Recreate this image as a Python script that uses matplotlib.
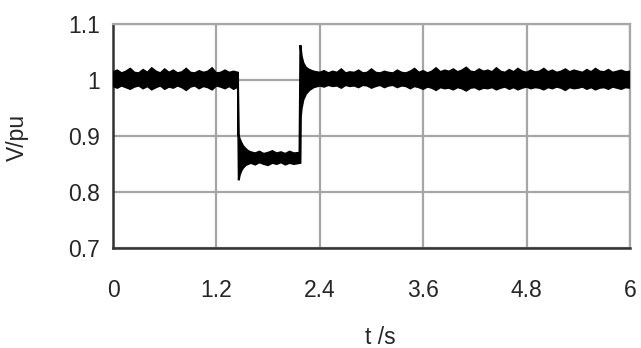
import numpy as np
import matplotlib.pyplot as plt

# envelope of the noisy voltage trace (t in s, V in pu)
t_pre = np.arange(0.0, 1.451, 0.05)
up_pre = [1.014, 1.017, 1.012, 1.015, 1.020, 1.013, 1.012, 1.018, 1.013, 1.021,
          1.015, 1.012, 1.019, 1.013, 1.017, 1.012, 1.014, 1.020, 1.013, 1.012,
          1.016, 1.013, 1.015, 1.021, 1.012, 1.013, 1.017, 1.013, 1.015, 1.013]
lo_pre = [0.989, 0.986, 0.990, 0.987, 0.984, 0.988, 0.990, 0.985, 0.989, 0.983,
          0.987, 0.990, 0.984, 0.988, 0.986, 0.990, 0.987, 0.982, 0.988, 0.990,
          0.985, 0.989, 0.987, 0.983, 0.990, 0.988, 0.985, 0.989, 0.984, 0.988]

t_up_sag = [1.455, 1.47, 1.49, 1.51, 1.54, 1.57, 1.60, 1.65, 1.70, 1.75, 1.80,
            1.85, 1.90, 1.95, 2.00, 2.05, 2.10, 2.165]
up_sag = [0.902, 0.895, 0.888, 0.882, 0.877, 0.873, 0.871, 0.869, 0.872, 0.868,
          0.870, 0.873, 0.869, 0.871, 0.868, 0.872, 0.869, 0.870]
t_lo_sag = [1.46, 1.47, 1.49, 1.51, 1.54, 1.57, 1.60, 1.65, 1.70, 1.75, 1.80,
            1.85, 1.90, 1.95, 2.00, 2.05, 2.10, 2.175]
lo_sag = [0.821, 0.830, 0.838, 0.843, 0.848, 0.850, 0.852, 0.849, 0.853, 0.850,
          0.848, 0.852, 0.850, 0.853, 0.849, 0.852, 0.850, 0.852]

t_up_rec = [2.175, 2.19, 2.21, 2.24, 2.28, 2.33]
up_rec = [1.062, 1.042, 1.030, 1.022, 1.018, 1.015]
t_lo_rec = [2.18, 2.19, 2.21, 2.24, 2.28, 2.33]
lo_rec = [0.935, 0.950, 0.965, 0.975, 0.982, 0.987]

t_post = np.arange(2.40, 6.001, 0.05)
up_post = [1.013, 1.016, 1.012, 1.015, 1.013, 1.019, 1.012, 1.014, 1.013, 1.017,
           1.012, 1.013, 1.019, 1.013, 1.012, 1.015, 1.013, 1.012, 1.017, 1.013,
           1.012, 1.015, 1.020, 1.013, 1.016, 1.012, 1.015, 1.021, 1.014, 1.017,
           1.015, 1.019, 1.014, 1.017, 1.022, 1.015, 1.014, 1.019, 1.015, 1.017,
           1.014, 1.021, 1.015, 1.013, 1.018, 1.014, 1.020, 1.015, 1.013, 1.017,
           1.014, 1.015, 1.020, 1.014, 1.017, 1.013, 1.015, 1.019, 1.014, 1.017,
           1.015, 1.013, 1.018, 1.014, 1.020, 1.015, 1.014, 1.018, 1.013, 1.015,
           1.017, 1.014, 1.015]
lo_post = [0.990, 0.988, 0.991, 0.989, 0.990, 0.986, 0.991, 0.989, 0.990, 0.987,
           0.991, 0.990, 0.986, 0.989, 0.991, 0.987, 0.990, 0.991, 0.987, 0.990,
           0.989, 0.985, 0.989, 0.987, 0.984, 0.988, 0.986, 0.982, 0.987, 0.985,
           0.986, 0.983, 0.987, 0.985, 0.981, 0.986, 0.987, 0.983, 0.986, 0.985,
           0.987, 0.983, 0.986, 0.988, 0.984, 0.987, 0.983, 0.986, 0.988, 0.985,
           0.987, 0.986, 0.983, 0.987, 0.985, 0.988, 0.986, 0.982, 0.987, 0.985,
           0.986, 0.988, 0.984, 0.987, 0.983, 0.986, 0.987, 0.984, 0.988, 0.986,
           0.984, 0.987, 0.986]

x_ticks = [0, 1.2, 2.4, 3.6, 4.8, 6]
x_labels = ["0", "1.2", "2.4", "3.6", "4.8", "6"]
y_ticks = [0.7, 0.8, 0.9, 1.0, 1.1]
y_labels = ["0.7", "0.8", "0.9", "1", "1.1"]

t_up = list(t_pre) + t_up_sag + t_up_rec + list(t_post)
v_up = up_pre + up_sag + up_rec + up_post
t_lo = list(t_pre) + t_lo_sag + t_lo_rec + list(t_post)
v_lo = lo_pre + lo_sag + lo_rec + lo_post

plt.rcParams['font.family'] = ['Liberation Sans', 'DejaVu Sans']
fig = plt.figure(figsize=(6.41, 3.48), dpi=100)
ax = fig.add_axes([0.1763, 0.2874, 0.8065, 0.6437])

poly_t = t_up + t_lo[::-1]
poly_v = v_up + v_lo[::-1]
ax.fill(poly_t, poly_v, color='black', lw=1.5, zorder=3)

ax.set_xlim(0, 6)
ax.set_ylim(0.7, 1.1)
ax.set_xticks(x_ticks)
ax.set_xticklabels(x_labels)
ax.set_yticks(y_ticks)
ax.set_yticklabels(y_labels)
ax.grid(True, color='#a6a6a6', lw=1.6)
ax.tick_params(length=0, labelsize=16.5, colors='#262626')
ax.tick_params(axis='y', pad=9.5)
ax.tick_params(axis='x', pad=22)
for s in ['top', 'right']:
    ax.spines[s].set_color('#a6a6a6')
    ax.spines[s].set_linewidth(1.6)
for s in ['left', 'bottom']:
    ax.spines[s].set_color('#333333')
    ax.spines[s].set_linewidth(1.8)

fig.text(380 / 641, 1 - 338 / 348, "t /s", fontsize=16.5, color='#262626',
         ha='center', va='center')
fig.text(17 / 641, 1 - 137 / 348, "V/pu", fontsize=16.5, color='#262626',
         ha='center', va='center', rotation=90)

fig.savefig("out.png", dpi=100)
